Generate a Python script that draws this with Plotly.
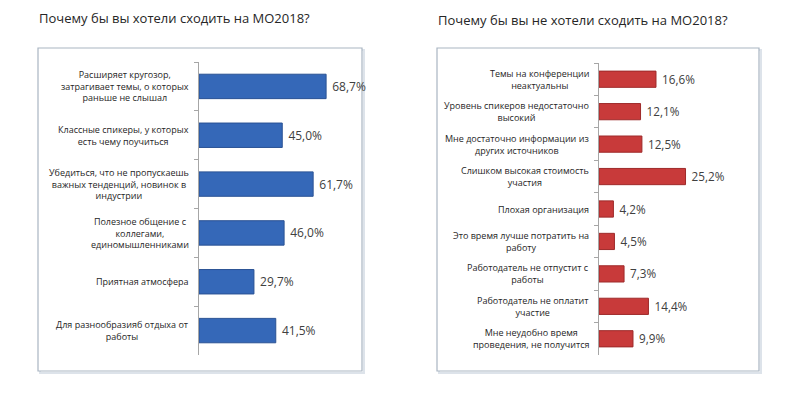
import plotly.graph_objects as go

# The page adds an 8px body margin, so the figure is drawn 8px in from the
# top-left; coordinates below are in reference-image pixels and are offset.
OFF = 8
W, H = 800 - OFF, 401 - OFF

left_title = "Почему бы вы хотели сходить на МО2018?"
right_title = "Почему бы вы не хотели сходить на МО2018?"

left_categories = [
    "Расширяет кругозор,<br>затрагивает темы, о которых<br>раньше не слышал",
    "Классные спикеры, у которых<br>есть чему поучиться",
    "Убедиться, что не пропускаешь<br>важных тенденций, новинок в<br>индустрии",
    "Полезное общение с<br>коллегами,<br>единомышленниками",
    "Приятная атмосфера",
    "Для разнообразияб отдыха от<br>работы",
]
left_values = [68.7, 45.0, 61.7, 46.0, 29.7, 41.5]

right_categories = [
    "Темы на конференции<br>неактуальны",
    "Уровень спикеров недостаточно<br>высокий",
    "Мне достаточно информации из<br>других источников",
    "Слишком высокая стоимость<br>участия",
    "Плохая организация",
    "Это время лучше потратить на<br>работу",
    "Работодатель не отпустит с<br>работы",
    "Работодатель не оплатит<br>участие",
    "Мне неудобно время<br>проведения, не получится",
]
right_values = [16.6, 12.1, 12.5, 25.2, 4.2, 4.5, 7.3, 14.4, 9.9]


def fmt(v):
    return " " + f"{v:.1f}".replace(".", ",") + "%"


def px(x):
    return (x - OFF) / W


def py(y):
    return 1 - (y - OFF) / H


FONT = "Open Sans"

fig = go.Figure()

fig.add_trace(go.Bar(
    x=left_values, y=left_categories, orientation="h",
    marker=dict(color="#3568b8", line=dict(color="#2a5294", width=1)),
    text=[fmt(v) for v in left_values], textposition="outside",
    textfont=dict(family=FONT, size=12, color="#404040"),
    cliponaxis=False, xaxis="x", yaxis="y", hoverinfo="skip",
))
fig.add_trace(go.Bar(
    x=right_values, y=right_categories, orientation="h",
    marker=dict(color="#c83a3a", line=dict(color="#9e2a2a", width=1)),
    text=[fmt(v) for v in right_values], textposition="outside",
    textfont=dict(family=FONT, size=13, color="#404040"),
    cliponaxis=False, xaxis="x2", yaxis="y2", hoverinfo="skip",
))

axis_common = dict(showgrid=False, zeroline=False)

fig.update_layout(
    width=W, height=H,
    margin=dict(l=0, r=0, t=0, b=0),
    paper_bgcolor="white", plot_bgcolor="rgba(0,0,0,0)",
    showlegend=False,
    bargap=0.5,
    font=dict(family=FONT, color="#262626"),
    xaxis=dict(domain=[px(199), px(347)], range=[0, 80], visible=False, **axis_common),
    yaxis=dict(domain=[py(355), py(62)], autorange="reversed", anchor="x",
               showticklabels=False, ticks="outside", tickson="boundaries",
               ticklen=4, tickcolor="#a6a6a6", showline=True, linecolor="#a6a6a6",
               linewidth=1, **axis_common),
    xaxis2=dict(domain=[px(599), px(702)], range=[0, 30], visible=False,
                anchor="y2", **axis_common),
    yaxis2=dict(domain=[py(355), py(63)], autorange="reversed", anchor="x2",
                showticklabels=False, ticks="outside", tickson="boundaries",
                ticklen=4, tickcolor="#a6a6a6", showline=True, linecolor="#a6a6a6",
                linewidth=1, **axis_common),
)

# Category labels (centered multi-line) placed at category positions
for cat in left_categories:
    fig.add_annotation(x=0, y=cat, xref="x", yref="y", text=cat, showarrow=False,
                       xanchor="right", align="center", xshift=-8,
                       font=dict(family=FONT, size=9, color="#262626"))
for cat in right_categories:
    fig.add_annotation(x=0, y=cat, xref="x2", yref="y2", text=cat, showarrow=False,
                       xanchor="right", align="center", xshift=-8,
                       font=dict(family=FONT, size=9, color="#262626"))

# Titles
fig.add_annotation(x=px(38), y=1, xref="paper", yref="paper", text=left_title,
                   showarrow=False, xanchor="left", yanchor="top", borderpad=0,
                   font=dict(family=FONT, size=13, color="#262626"))
fig.add_annotation(x=px(437), y=1, yshift=-2, xref="paper", yref="paper", text=right_title,
                   showarrow=False, xanchor="left", yanchor="top", borderpad=0,
                   font=dict(family=FONT, size=13, color="#262626"))

# Chart frames with soft shadow
for x0, x1 in [(38, 362), (437, 759)]:
    fig.add_shape(type="rect", xref="paper", yref="paper",
                  x0=px(x0 + 2), x1=px(x1 + 2), y0=py(373), y1=py(50),
                  line=dict(color="#dde3ea", width=2), layer="below")
    fig.add_shape(type="rect", xref="paper", yref="paper",
                  x0=px(x0), x1=px(x1), y0=py(371), y1=py(48),
                  line=dict(color="#a9b5c2", width=1.2), fillcolor="white", layer="below")

fig.write_html("out.html")
